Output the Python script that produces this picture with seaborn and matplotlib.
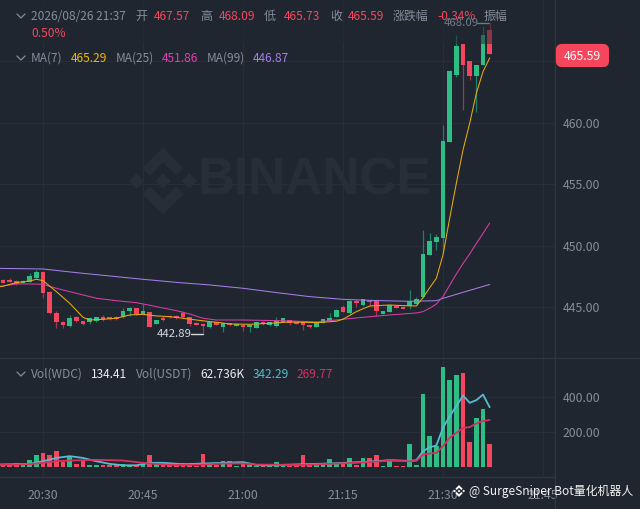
import numpy as np
import pandas as pd
import seaborn as sns
import matplotlib.pyplot as plt
from matplotlib.patches import Polygon, FancyBboxPatch, Rectangle

# candles, one per minute from 20:24
opens = [447.24, 447.24, 447.15, 447.02, 447.10, 447.37, 447.91, 446.29, 444.52, 443.79,
         443.49, 444.25, 443.93, 443.79, 443.87, 444.20, 444.25, 444.23, 444.20, 444.74,
         444.96, 444.47, 444.63, 443.66, 444.17, 444.33, 444.33, 444.52, 444.20, 443.77,
         443.66, 443.39, 443.80, 443.44, 443.71, 443.50, 443.58, 443.39, 443.33, 443.82,
         443.55, 443.50, 443.85, 443.96, 443.82, 443.80, 443.58, 443.44, 443.77, 443.93,
         444.26, 445.01, 444.53, 445.56, 445.18, 445.56, 445.56, 444.50, 444.63, 445.12,
         445.07, 445.12, 445.29, 445.88, 449.29, 450.32, 450.68, 458.48, 463.90, 466.42,
         465.04, 463.82, 464.72, 467.57]
closes = [447.02, 447.10, 446.91, 447.15, 447.56, 447.91, 446.15, 444.52, 443.79, 443.58,
          444.12, 443.87, 443.63, 444.12, 444.20, 443.98, 444.04, 444.04, 444.74, 444.96,
          444.44, 444.74, 443.44, 443.98, 443.98, 444.20, 444.12, 444.20, 443.66, 443.60,
          443.49, 443.85, 443.58, 443.71, 443.58, 443.66, 443.39, 443.58, 443.82, 443.63,
          443.82, 443.93, 444.12, 443.77, 443.66, 443.58, 443.39, 443.71, 444.04, 444.15,
          444.80, 444.63, 445.56, 445.34, 445.66, 445.45, 444.74, 444.69, 445.20, 444.96,
          444.91, 445.50, 445.69, 449.35, 450.43, 450.70, 458.54, 464.25, 466.29, 464.72,
          463.82, 464.72, 467.15, 465.59]
highs = [447.30, 447.37, 447.20, 447.20, 447.77, 448.05, 448.00, 446.30, 444.71, 443.90,
         444.39, 444.33, 443.93, 444.20, 444.20, 444.39, 444.25, 444.30, 444.93, 445.07,
         444.96, 445.28, 444.65, 444.00, 444.31, 444.35, 444.40, 444.71, 444.25, 443.80,
         443.70, 443.85, 443.85, 443.75, 443.75, 443.70, 443.60, 443.60, 443.85, 443.88,
         443.85, 444.23, 444.15, 444.00, 443.85, 443.85, 443.60, 443.75, 444.10, 444.53,
         444.85, 445.23, 445.60, 445.60, 445.70, 445.60, 445.70, 444.72, 445.22, 445.15,
         445.10, 446.42, 445.83, 451.30, 451.08, 450.97, 459.84, 464.30, 467.15, 466.45,
         465.05, 464.75, 467.89, 468.09]
lows = [447.00, 447.10, 446.85, 447.00, 447.05, 447.30, 445.80, 444.50, 443.30, 443.36,
        443.45, 443.82, 443.60, 443.63, 443.85, 443.90, 444.00, 444.00, 444.18, 444.33,
        444.42, 444.45, 443.40, 443.62, 443.93, 444.18, 444.10, 444.15, 443.50, 443.55,
        442.89, 443.33, 443.55, 443.04, 443.50, 443.48, 443.12, 443.04, 443.30, 443.60,
        443.50, 443.42, 443.80, 443.60, 443.63, 443.17, 443.30, 443.42, 443.70, 443.90,
        444.20, 444.60, 444.50, 445.07, 445.15, 445.12, 444.34, 444.48, 444.60, 444.93,
        444.88, 444.90, 445.25, 445.80, 449.25, 449.67, 449.40, 458.45, 463.71, 461.06,
        463.50, 460.92, 464.70, 465.59]
volumes = [19, 13, 25, 10, 42, 70, 82, 72, 95, 30, 63, 21, 44, 13, 13, 13, 10, 13, 21, 13,
           13, 17, 67, 25, 17, 11, 13, 25, 15, 6, 78, 13, 13, 38, 34, 8, 21, 13, 6, 6,
           13, 30, 15, 6, 13, 72, 17, 13, 13, 48, 17, 32, 50, 10, 50, 50, 69, 8, 34, 8,
           8, 133, 15, 417, 181, 124, 573, 497, 528, 539, 143, 282, 331, 134.41]

# moving averages at these candle numbers (-1 is off the left edge)
ma7_at = [-1, 0, 2, 4, 5, 6, 8, 10, 12, 13, 15, 17, 19, 21, 23, 25, 27, 29, 31, 32, 34, 37, 40, 43,
          47, 48, 50, 51, 53, 55, 58, 60, 62, 63, 64, 65, 66, 67, 68, 69, 70, 71, 72, 73]
ma7 = [446.65, 446.73, 447.02, 447.15, 447.29, 447.18, 446.29, 445.34, 444.20, 443.98, 444.04, 444.12,
       444.39, 444.44, 444.31, 444.25, 444.12, 443.98, 443.85, 443.80, 443.66, 443.63, 443.71,
       443.82, 443.77, 443.80, 443.88, 444.04, 444.66, 445.12, 445.20, 445.15, 445.12, 445.80,
       446.60, 447.37, 449.27, 452.25, 455.09, 457.80, 459.97, 462.41, 464.17, 465.29]
ma25_at = [-1, 0, 2, 4, 6, 8, 11, 14, 17, 20, 23, 26, 28, 30, 32, 36, 41, 46, 47, 51, 54, 58, 62, 63,
           64, 65, 66, 67, 68, 69, 70, 71, 72, 73]
ma25 = [446.70, 446.75, 446.91, 446.91, 446.88, 446.56, 446.15, 445.75, 445.55, 445.39, 445.07, 444.74,
        444.47, 444.12, 443.98, 443.98, 443.93, 443.85, 443.82, 444.04, 444.20, 444.39, 444.55,
        444.66, 444.93, 445.28, 445.88, 446.80, 447.72, 448.57, 449.35, 450.20, 451.02, 451.86]
ma99_at = [-1, 6, 11, 21, 26, 31, 36, 41, 46, 51, 56, 61, 65, 66, 69, 73]
ma99 = [448.18, 448.13, 447.83, 447.29, 447.04, 446.83, 446.56, 446.21, 445.88, 445.66, 445.56,
        445.50, 445.55, 445.74, 446.23, 446.87]
vol_fast_at = [-1, 4, 6, 8, 10, 12, 14, 16, 18, 20, 22, 24, 27, 30, 33, 36, 38, 39, 45, 49, 55, 58,
               61, 62, 63, 64, 65, 66, 67, 68, 69, 70, 71, 72, 73]
vol_fast = [15, 19, 34, 53, 63, 53, 34, 19, 11, 11, 25, 25, 17, 21, 25, 29, 13, 10, 17, 21, 32, 40,
            36, 40, 91, 114, 124, 225, 291, 349, 410, 368, 383, 415, 342.29]
vol_slow_at = [-1, 4, 6, 8, 10, 14, 18, 21, 24, 27, 30, 33, 36, 38, 39, 45, 49, 55, 58, 61, 62, 63,
               64, 65, 66, 67, 68, 69, 70, 71, 72, 73]
vol_slow = [13, 17, 25, 34, 38, 42, 38, 25, 15, 13, 15, 21, 21, 15, 15, 13, 19, 29, 38, 34, 36, 72,
            78, 82, 120, 168, 196, 225, 229, 250, 264, 269.77]

price_ticks = [445, 450, 455, 460, 465]
vol_ticks = [200, 400]
time_ticks = [6, 21, 36, 51, 66, 81]
time_labels = ['20:30', '20:45', '21:00', '21:15', '21:30', '21:45']

BG = '#1f2630'
GRID = '#272e39'
SEP = '#2e3540'
GREY = '#848e9c'
UP = '#2ebd85'
DOWN = '#f6465d'
CJK = ['Noto Sans CJK SC', 'DejaVu Sans']

sns.set_theme(style='dark')
plt.rcParams['font.family'] = CJK

W, H = 640, 509
fig = plt.figure(figsize=(W / 100, H / 100), dpi=100, facecolor=BG)


def panel(top, bottom, right=555, z=1):
    a = fig.add_axes([0, 1 - bottom / H, right / W, (bottom - top) / H], zorder=z)
    a.set_facecolor('none')
    return a


# pixel layer behind the chart, for the watermark
back = fig.add_axes([0, 0, 1, 1], zorder=0)
back.set_xlim(0, W)
back.set_ylim(H, 0)
back.axis('off')
WM = '#272e38'
s = 68 / 126
lx, ly = 129, 147
shapes = [
    [(38.7, 53.1), (63, 28.8), (87.3, 53.1), (101.4, 39), (63, 0.6), (24.6, 39)],
    [(38.7, 72.9), (63, 97.2), (87.3, 72.9), (101.4, 87), (63, 125.4), (24.6, 87)],
    [(0, 63), (14.1, 48.9), (28.2, 63), (14.1, 77.1)],
    [(97.8, 63), (111.9, 48.9), (126, 63), (111.9, 77.1)],
    [(48.7, 63), (63, 48.7), (77.3, 63), (63, 77.3)],
]
for sh in shapes:
    back.add_patch(Polygon([(lx + px * s, ly + py * s) for px, py in sh], closed=True, fc=WM, ec='none'))
back.text(198, 181, 'BINANCE', color=WM, fontsize=37, fontweight='bold', family='Liberation Sans',
          va='center', ha='left')

# candles
idx = np.arange(len(opens))
o = np.array(opens)
c = np.array(closes)
colors = [UP if cl >= op else DOWN for op, cl in zip(o, c)]
wick_colors = ['#207f63' if cl >= op else '#a5354c' for op, cl in zip(o, c)]

ax = panel(0, 358)
ax.vlines(idx, lows, highs, colors=wick_colors, linewidth=0.9, zorder=2)
ax.bar(idx, np.maximum(np.abs(c - o), 0.05), bottom=np.minimum(o, c), width=0.72, color=colors,
       edgecolor='none', zorder=3)

ma_lines = [(ma99_at, ma99, '#a67ce8'), (ma25_at, ma25, '#d93da6'), (ma7_at, ma7, '#eaab0b')]
for at, vals, col in ma_lines:
    sns.lineplot(x=at, y=vals, color=col, linewidth=0.75, ax=ax, zorder=4, errorbar=None)

ax.set_xlim(-0.45, 82.8)
ax.set_ylim(440.89, 470)
ax.yaxis.tick_right()
ax.set_yticks(price_ticks)
ax.set_yticklabels(['%.2f' % p for p in price_ticks])
ax.set_xticks(time_ticks)
ax.set_xticklabels([])
ax.tick_params(axis='both', length=0, labelcolor=GREY, labelsize=8.8, pad=5.5)
ax.grid(True, color=GRID, linewidth=0.8)
ax.set_axisbelow(True)
ax.set_xlabel('')
ax.set_ylabel('')
for sp in ax.spines.values():
    sp.set_visible(False)

# volume
axv = panel(358, 477)
vol_df = pd.DataFrame({'minute': idx, 'vol': volumes, 'up': [cl >= op for op, cl in zip(o, c)]})
sns.barplot(data=vol_df, x='minute', y='vol', hue='up', palette={True: UP, False: DOWN}, dodge=False,
            native_scale=True, width=0.72, legend=False, ax=axv, zorder=3, saturation=1,
            edgecolor='none', linewidth=0)
sns.lineplot(x=vol_fast_at, y=vol_fast, color='#55bdd0', linewidth=1.3, ax=axv, zorder=4, errorbar=None)
sns.lineplot(x=vol_slow_at, y=vol_slow, color='#d8305f', linewidth=1.3, ax=axv, zorder=5, errorbar=None)
axv.set_xlim(-0.45, 82.8)
axv.set_ylim(-56, 624)
axv.yaxis.tick_right()
axv.set_yticks(vol_ticks)
axv.set_yticklabels(['%.2f' % v for v in vol_ticks])
axv.set_xticks(time_ticks)
axv.set_xticklabels(time_labels)
axv.tick_params(axis='y', length=0, labelcolor=GREY, labelsize=8.8, pad=5.5)
axv.tick_params(axis='x', length=0, labelcolor=GREY, labelsize=8.8, pad=8.5)
axv.grid(True, color=GRID, linewidth=0.8)
axv.set_axisbelow(True)
axv.set_xlabel('')
axv.set_ylabel('')
for sp in axv.spines.values():
    sp.set_visible(False)

# pixel layer on top: header, price tag, separators
top = fig.add_axes([0, 0, 1, 1], zorder=5)
top.set_xlim(0, W)
top.set_ylim(H, 0)
top.axis('off')
top.add_patch(Rectangle((0, 0), 520, 44, fc=BG, ec='none', alpha=0.5, zorder=1))
top.plot([0, 640], [358, 358], color=SEP, lw=1)
top.plot([0, 555], [477, 477], color=SEP, lw=1)
top.plot([555, 555], [0, 509], color=SEP, lw=1)


def put(x, y, s, col=GREY, size=8.6, **kw):
    top.text(x, y, s, color=col, fontsize=size, va='center', ha='left', zorder=3, **kw)


def chevron(y):
    top.plot([17, 21, 25], [y - 2, y + 2, y - 2], color=GREY, lw=0.9)


chevron(16)
chevron(58)
chevron(374)
for x, s, col in [(31, '2026/08/26 21:37', GREY), (135, '开', GREY), (154, '467.57', DOWN),
                  (200, '高', GREY), (219, '468.09', DOWN), (264, '低', GREY), (284, '465.73', DOWN),
                  (330, '收', GREY), (348, '465.59', DOWN), (393, '涨跌幅', GREY), (437, '-0.34%', DOWN),
                  (484, '振幅', GREY)]:
    put(x, 16, s, col)
put(31, 33, '0.50%', DOWN)
for x, s, col in [(31, 'MA(7)', GREY), (71, '465.29', '#f0b90b'), (116, 'MA(25)', GREY),
                  (162, '451.86', '#e23fb0'), (207, 'MA(99)', GREY), (253, '446.87', '#a67ce8')]:
    put(x, 58, s, col)
for x, s, col in [(31, 'Vol(WDC)', GREY), (91, '134.41', '#eaecef'), (136, 'Vol(USDT)', GREY),
                  (200, '62.736K', '#eaecef'), (253, '342.29', '#55bdd0'), (297, '269.77', '#d8305f')]:
    put(x, 374, s, col)

# high / low notes
put(444, 23, '468.09', '#6f7885', size=8.2)
top.plot([477, 489], [23, 23], color='#6f7885', lw=1)
put(157, 334, '442.89', '#d5d9df', size=8.2)
top.plot([191, 203], [334, 334], color='#d5d9df', lw=1)

# last price tag
top.add_patch(FancyBboxPatch((558, 46), 49, 19, boxstyle='round,pad=0,rounding_size=4', fc=DOWN, ec=DOWN,
                             lw=3, zorder=2))
top.text(582, 56, '465.59', color='white', fontsize=8.8, ha='center', va='center', zorder=3)

# repost mark
m = 12 / 126
for sh in shapes:
    top.add_patch(Polygon([(453 + px * m, 485 + py * m) for px, py in sh], closed=True, fc='white', ec='none', zorder=3))
top.text(469, 491, '@ SurgeSniper Bot量化机器人', color='#f2f2f2', fontsize=8.6, ha='left', va='center', zorder=3)

fig.savefig('out.png', dpi=100, facecolor=BG)
